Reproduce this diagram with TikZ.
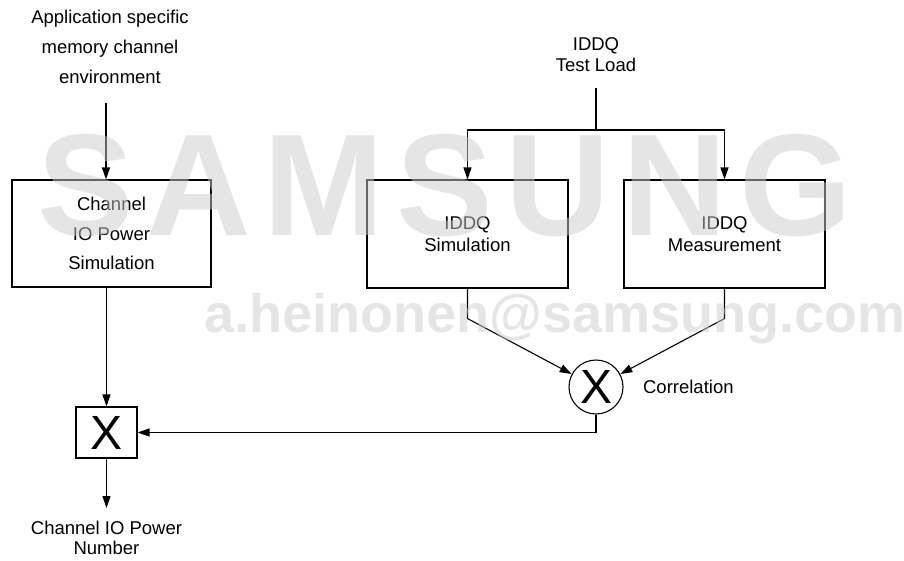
\documentclass[tikz,border=0pt]{standalone}
\usepackage{fontspec}
\setmainfont{Liberation Sans}
\usetikzlibrary{arrows.meta,positioning}
\begin{document}
\begin{tikzpicture}[x=1pt,y=-1pt,line width=1.1pt,
  arr/.style={-{Triangle[length=12pt,width=8pt]}},
  box/.style={draw,minimum width=201pt,minimum height=108pt,inner sep=0pt,align=center},
  mul/.style={draw,inner sep=0pt,font=\fontsize{48}{48}\selectfont},
  txt/.style={align=center,inner sep=0pt},
  wmark/.style={inner sep=0pt,text=black!20,text opacity=0.5}]
\useasboundingbox (0,0) rectangle (904,560);
\node[txt,font=\fontsize{18.5}{30}\selectfont] (appl) at (110,47) {Application specific\\memory channel\\environment};
\coordinate (appl-tail) at (106,103);
\node[box,minimum width=199pt,minimum height=107pt,font=\fontsize{18.5}{29.5}\selectfont] (chsim) at (111.5,233.5) {Channel\\IO Power\\Simulation};
\node[mul,minimum width=61pt,minimum height=51pt] (mulbox) at (106.5,432.5) {X};
\coordinate (res-head) at (106.5,508);
\node[txt,font=\fontsize{18.5}{19.5}\selectfont] (result) at (106.5,538) {Channel IO Power\\Number};
\draw[arr] (appl-tail) -- (appl-tail |- chsim.north);
\draw[arr] (chsim.south -| mulbox) -- (mulbox);
\draw[arr] (mulbox) -- (res-head);

\node[txt,font=\fontsize{18.5}{21}\selectfont] (load) at (596,55) {IDDQ\\Test Load};
\coordinate (load-tail) at (596,88);
\coordinate (split) at (596,130);
\node[box,font=\fontsize{18.5}{22}\selectfont] (simbox) at (467.5,234) {IDDQ\\Simulation};
\node[box,font=\fontsize{18.5}{22}\selectfont] (measbox) at (724.5,234) {IDDQ\\Measurement};
\node[mul,circle,minimum size=54pt] (corr) at (596,387) {X};
\node[txt,right=19pt of corr,font=\fontsize{18.5}{22}\selectfont] (corrlbl) {Correlation};
\draw (load-tail) -- (split);
\draw[arr] (split) -| (simbox.north);
\draw[arr] (split) -| (measbox.north);
\draw[arr] (simbox.south) -- ++(0,30) -- (corr);
\draw[arr] (measbox.south) -- ++(0,30) -- (corr);
\draw[arr] (corr.south) |- (mulbox.east);

\node[wmark,anchor=base,font=\fontsize{145}{145}\selectfont\bfseries\addfontfeature{LetterSpace=8.4}] (brand) at (445,235) {SAMSUNG};
\node[wmark,anchor=base west,font=\fontsize{54}{54}\selectfont\bfseries] (email) at (204,332) {a.heinonen@samsung.com};
\end{tikzpicture}
\end{document}
